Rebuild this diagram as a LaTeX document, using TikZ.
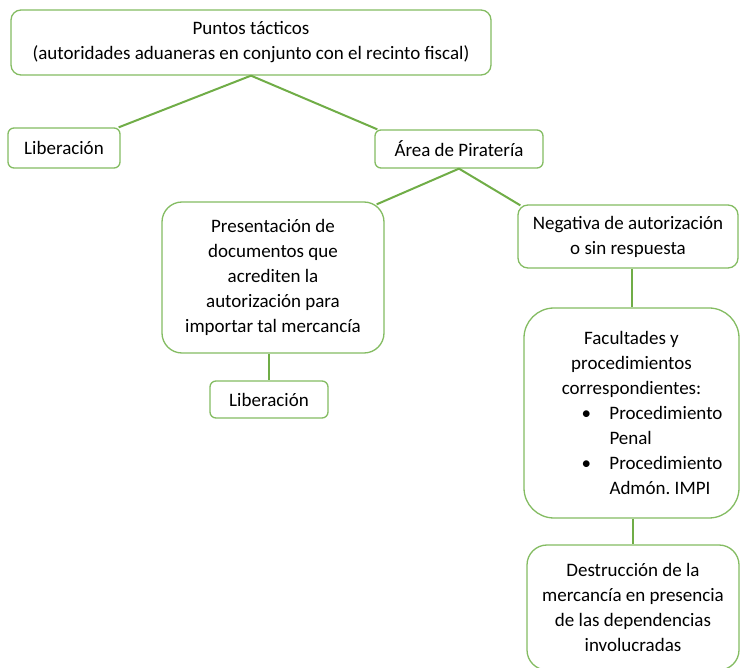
\documentclass[tikz,border=0pt]{standalone}
\usepackage{fontspec}
\setmainfont{Carlito}
\usetikzlibrary{calc}
\definecolor{grn}{HTML}{70AD47}
\definecolor{grnbox}{HTML}{84BC62}
\tikzset{
  box/.style={draw=grnbox, line width=1.3pt, fill=white, align=center, inner sep=0pt,
    font=\fontsize{19}{25}\selectfont\frenchspacing},
  conn/.style={draw=grn, line width=2pt}
}
\begin{document}
\begin{tikzpicture}[x=1pt,y=1pt]
\useasboundingbox (0,0) rectangle (740,-668);
\node[box, minimum width=480pt, minimum height=65pt, rounded corners=10pt] (top) at (251,-42.5)
  {Puntos tácticos\\(autoridades aduaneras en conjunto con el recinto fiscal)};
\node[box, minimum width=112pt, minimum height=40pt, rounded corners=6pt] (libA) at (64,-148) {Liberación};
\node[box, minimum width=168pt, minimum height=38pt, rounded corners=6pt] (area) at (459,-149) {Área de Piratería};
\node[box, minimum width=222pt, minimum height=151pt, rounded corners=20pt] (pres) at (273,-277.5)
  {Presentación de\\documentos que\\acrediten la\\autorización para\\importar tal mercancía};
\node[box, minimum width=118pt, minimum height=37pt, rounded corners=6pt] (libB) at (269,-399.5) {Liberación};
\node[box, minimum width=220pt, minimum height=63pt, rounded corners=10pt] (neg) at (628,-236.5)
  {Negativa de autorización\\o sin respuesta};
\node[box, minimum width=215pt, minimum height=210pt, rounded corners=30pt] (fac) at (631.5,-413)
  {Facultades y\\procedimientos\\correspondientes:\\
   \makebox[170pt][l]{\hspace*{35pt}\makebox[28pt][l]{\textbullet}Procedimiento}\\
   \makebox[170pt][l]{\hspace*{63pt}Penal}\\
   \makebox[170pt][l]{\hspace*{35pt}\makebox[28pt][l]{\textbullet}Procedimiento}\\
   \makebox[170pt][l]{\hspace*{63pt}Admón. IMPI}};
\node[box, minimum width=212pt, minimum height=125pt, rounded corners=20pt] (des) at (633,-607.5)
  {Destrucción de la\\mercancía en presencia\\de las dependencias\\involucradas};
\draw[conn] (top.south) -- ($(libA.north east)+(-2,0)$);
\draw[conn] (top.south) -- ($(area.north west)+(3,0)$);
\draw[conn] (area.south) -- ($(pres.north east)+(-8,-3)$);
\draw[conn] (area.south) -- ($(neg.north west)+(3,-1)$);
\draw[conn] (libB.north |- pres.south) -- (libB.north);
\draw[conn] (fac.north |- neg.south) -- (fac.north);
\draw[conn] (des.north |- fac.south) -- (des.north);
\end{tikzpicture}
\end{document}
